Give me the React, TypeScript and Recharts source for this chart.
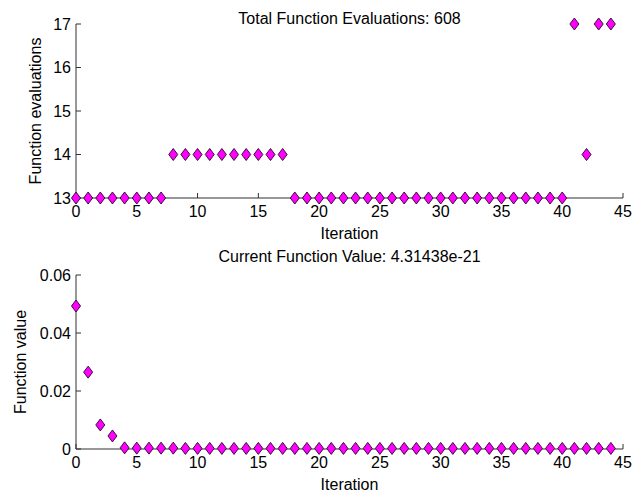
import { Scatter, ScatterChart, XAxis, YAxis } from "recharts";

const iterations = [
  0, 1, 2, 3, 4, 5, 6, 7, 8, 9, 10, 11, 12, 13, 14, 15, 16, 17, 18, 19, 20, 21,
  22, 23, 24, 25, 26, 27, 28, 29, 30, 31, 32, 33, 34, 35, 36, 37, 38, 39, 40, 41,
  42, 43, 44,
];

const evalCounts = [
  13, 13, 13, 13, 13, 13, 13, 13, 14, 14, 14, 14, 14, 14, 14, 14, 14, 14, 13, 13,
  13, 13, 13, 13, 13, 13, 13, 13, 13, 13, 13, 13, 13, 13, 13, 13, 13, 13, 13, 13,
  13, 17, 14, 17, 17,
];

const funcValues = [
  0.0493, 0.0265, 0.0083, 0.0045, 0.0004, 0.0003, 0.0003, 0.0003, 0.0003, 0.0002,
  0.0002, 0.0002, 0.0002, 0.0002, 0.0002, 0.0002, 0.0002, 0.0002, 0.0002, 0.0002,
  0.0002, 0.0002, 0.0002, 0.0002, 0.0002, 0.0002, 0.0002, 0.0002, 0.0002, 0.0002,
  0.0002, 0.0002, 0.0002, 0.0002, 0.0002, 0.0002, 0.0002, 0.0002, 0.0002, 0.0002,
  0.0002, 0.0002, 0.0002, 0.0002, 0.0002,
];

const xTicks = [0, 5, 10, 15, 20, 25, 30, 35, 40, 45];
const evalTicks = [13, 14, 15, 16, 17];
const valueTicks = [0, 0.02, 0.04, 0.06];

const topTitle = "Total Function Evaluations: 608";
const bottomTitle = "Current Function Value: 4.31438e-21";

const evalData = iterations.map((x, i) => ({ x, y: evalCounts[i] }));
const valueData = iterations.map((x, i) => ({ x, y: funcValues[i] }));

const AXIS = "#303030";
const FONT = "'Liberation Sans', Arial, sans-serif";
const X_DOMAIN: [number, number] = [0, 45];

function XTick(props: any) {
  const { x, y, payload } = props;
  return (
    <g>
      <line x1={x} y1={y} x2={x} y2={y - 5} stroke={AXIS} />
      <text x={x} y={y + 13} dy="0.36em" textAnchor="middle" fill="#000" fontSize={16}>
        {payload.value}
      </text>
    </g>
  );
}

function YTick(props: any) {
  const { x, y, payload } = props;
  return (
    <g>
      <line x1={x} y1={y} x2={x + 5} y2={y} stroke={AXIS} />
      <text x={x - 5} y={y} dy="0.36em" textAnchor="end" fill="#000" fontSize={16}>
        {payload.value}
      </text>
    </g>
  );
}

function Diamond(props: any) {
  const { cx, cy } = props;
  if (cx == null || cy == null) return null;
  return (
    <path
      d={`M${cx},${cy - 6}L${cx + 4.5},${cy}L${cx},${cy + 6}L${cx - 4.5},${cy}Z`}
      fill="#ff00ff"
      stroke="#3a103a"
      strokeWidth={1}
    />
  );
}

const NoMark = () => <g />;

type PanelProps = {
  data: { x: number; y: number }[];
  yDomain: [number, number];
  yTicks: number[];
  yLabel: string;
  yLabelOffset: number;
  height: number;
  top: number;
  xAxisHeight: number;
  xLabelOffset: number;
};

// axes drawn in one chart, markers in an overlaid chart so they sit on top of the axes
function Panel(p: PanelProps) {
  const plotLeft = 76;
  const right = 18;
  return (
    <div style={{ position: "absolute", left: 0, top: 0, width: 641, height: p.height }}>
      <div style={{ position: "absolute", left: 0, top: 0 }}>
        <ScatterChart width={641} height={p.height} margin={{ top: p.top, right, left: 0, bottom: 0 }}>
          <XAxis
            type="number"
            dataKey="x"
            domain={X_DOMAIN}
            ticks={xTicks}
            interval={0}
            height={p.xAxisHeight}
            tickSize={0}
            tickMargin={0}
            tickLine={false}
            tick={XTick}
            axisLine={{ stroke: AXIS }}
            label={{ value: "Iteration", position: "insideBottom", offset: p.xLabelOffset, fill: "#000", fontSize: 16 }}
          />
          <YAxis
            type="number"
            dataKey="y"
            domain={p.yDomain}
            ticks={p.yTicks}
            interval={0}
            width={plotLeft}
            tickSize={0}
            tickMargin={0}
            tickLine={false}
            tick={YTick}
            axisLine={{ stroke: AXIS }}
            label={{
              value: p.yLabel,
              angle: -90,
              position: "insideLeft",
              offset: p.yLabelOffset,
              fill: "#000",
              fontSize: 16,
              style: { textAnchor: "middle" },
            }}
          />
          <Scatter data={p.data} shape={NoMark} isAnimationActive={false} />
        </ScatterChart>
      </div>
      <div style={{ position: "absolute", left: 0, top: 0 }}>
        <ScatterChart
          width={641}
          height={p.height}
          margin={{ top: p.top, right, left: plotLeft, bottom: p.xAxisHeight }}
        >
          <XAxis type="number" dataKey="x" domain={X_DOMAIN} hide />
          <YAxis type="number" dataKey="y" domain={p.yDomain} hide />
          <Scatter data={p.data} shape={Diamond} isAnimationActive={false} />
        </ScatterChart>
      </div>
    </div>
  );
}

const titleStyle = (top: number) => ({
  position: "absolute" as const,
  left: 76,
  width: 547,
  top,
  textAlign: "center" as const,
  fontSize: 16,
  lineHeight: "16px",
  color: "#000",
});

export default function App() {
  return (
    <div
      style={{
        position: "absolute",
        left: 0,
        top: 0,
        width: 641,
        height: 494,
        background: "#fff",
        fontFamily: FONT,
      }}
    >
      <div style={{ position: "absolute", left: 0, top: 0 }}>
        <Panel
          data={evalData}
          yDomain={[13, 17]}
          yTicks={evalTicks}
          yLabel="Function evaluations"
          yLabelOffset={35}
          height={250}
          top={24}
          xAxisHeight={52}
          xLabelOffset={11}
        />
      </div>
      <div style={{ position: "absolute", left: 0, top: 250 }}>
        <Panel
          data={valueData}
          yDomain={[0, 0.06]}
          yTicks={valueTicks}
          yLabel="Function value"
          yLabelOffset={20}
          height={244}
          top={25}
          xAxisHeight={45}
          xLabelOffset={4}
        />
      </div>
      <div style={titleStyle(11)}>{topTitle}</div>
      <div style={titleStyle(249)}>{bottomTitle}</div>
    </div>
  );
}
